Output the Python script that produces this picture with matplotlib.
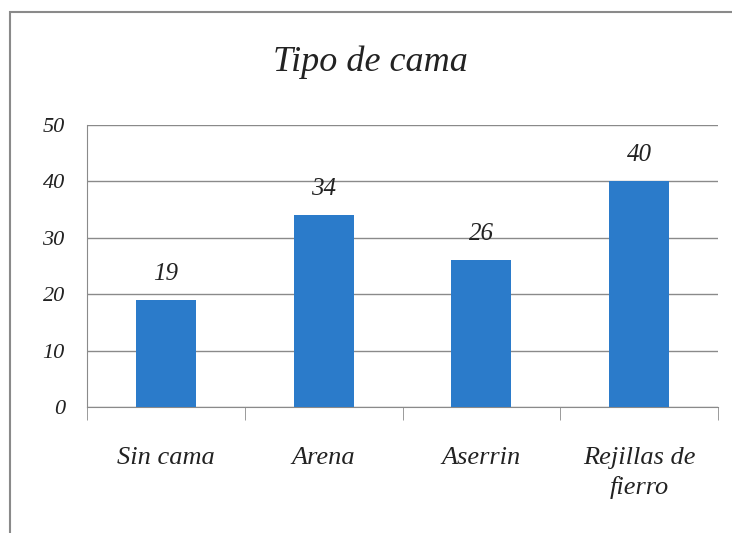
import matplotlib.pyplot as plt
from matplotlib.patches import Rectangle

categorias = ['Sin cama', 'Arena', 'Aserrin', 'Rejillas de\nfierro']
valores = [19, 34, 26, 40]
yticks = [0, 10, 20, 30, 40, 50]

plt.rcParams['font.family'] = ['Liberation Serif', 'DejaVu Serif']
plt.rcParams['font.style'] = 'italic'

fig = plt.figure(figsize=(7.32, 5.33), dpi=100)
# marco del gráfico
fig.patches.append(Rectangle((10 / 732, -0.05), 1.1, 1 - 12 / 533 + 0.05,
                             transform=fig.transFigure, fill=False,
                             edgecolor='#8a8a8a', linewidth=1.5))

ax = fig.add_axes([87 / 732, 1 - 407 / 533, 631 / 732, 282 / 533])
x = list(range(len(categorias)))
bars = ax.bar(x, valores, width=0.38, color='#2b7bca', zorder=3)
for xi, v in zip(x, valores):
    ax.annotate(str(v), xy=(xi, v), xytext=(0, 11), textcoords='offset points',
                ha='center', va='bottom', fontsize=18, color='#222222')

ax.set_xlim(-0.5, 3.5)
ax.set_ylim(0, 50)
ax.set_yticks(yticks)
ax.set_xticks(x)
ax.set_xticklabels(categorias, fontsize=19, color='#222222', linespacing=1.4)
ax.set_xticks([-0.5, 0.5, 1.5, 2.5, 3.5], minor=True)
ax.tick_params(axis='x', which='major', length=0, pad=29)
ax.tick_params(axis='x', which='minor', length=9, color='#8a8a8a')
ax.tick_params(axis='y', length=0, pad=16, labelsize=16, labelcolor='#222222')
ax.grid(axis='y', color='#8a8a8a', linewidth=1, zorder=0)
for s in ['top', 'right']:
    ax.spines[s].set_visible(False)
ax.spines['left'].set_color('#8a8a8a')
ax.spines['bottom'].set_color('#8a8a8a')

fig.text(370 / 732, 1 - 62 / 533, 'Tipo de cama', ha='center', va='center',
         fontsize=26, color='#222222')

fig.savefig('out.png', dpi=100)
